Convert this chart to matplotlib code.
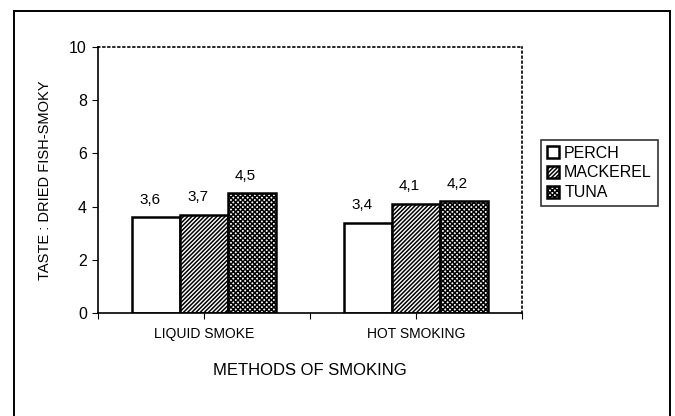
import matplotlib.pyplot as plt
import matplotlib.lines as mlines
import numpy as np

# data
methods = ["LIQUID SMOKE", "HOT SMOKING"]
fish = ["PERCH", "MACKEREL", "TUNA"]
perch = [3.6, 3.4]
mackerel = [3.7, 4.1]
tuna = [4.5, 4.2]

plt.rcParams["font.family"] = ["Liberation Sans", "DejaVu Sans"]
plt.rcParams["hatch.linewidth"] = 1.1

fig = plt.figure(figsize=(6.75, 4.16), dpi=100)
ax = fig.add_axes([98 / 675, 1 - 313 / 416, 424 / 675, 266 / 416])

x = np.arange(len(methods))
w = 0.225
series = [perch, mackerel, tuna]
hatches = ["", "////////", "xxxxxxx"]
bars = []
for i, (vals, h) in enumerate(zip(series, hatches)):
    b = ax.bar(x + (i - 1) * w, vals, w, color="white", edgecolor="black",
               linewidth=1.8, hatch=h, label=fish[i])
    bars.append(b)
    for xi, v in zip(x + (i - 1) * w, vals):
        ax.text(xi - 0.03, v + 0.4, f"{v:.1f}".replace(".", ","),
                ha="center", va="bottom", fontsize=11)

ax.set_xlim(-0.5, 1.5)
ax.set_ylim(0, 10)
ax.set_yticks([0, 2, 4, 6, 8, 10])
ax.set_xticks([-0.5, 0, 0.5, 1, 1.5], minor=False)
ax.set_xticklabels(["", methods[0], "", methods[1], ""], fontsize=10)
ax.tick_params(axis="x", direction="out", length=4, pad=6)
ax.tick_params(axis="y", direction="out", length=4, labelsize=11.5, pad=4)
for side in ["top", "right"]:
    ax.spines[side].set_linestyle((0, (1, 2)))
for side in ax.spines:
    ax.spines[side].set_linewidth(1.2)

ax.set_ylabel("TASTE : DRIED FISH-SMOKY", fontsize=10.5, labelpad=12)
ax.set_xlabel("METHODS OF SMOKING", fontsize=12, labelpad=16)

leg = fig.legend(handles=bars, labels=fish, loc="upper left",
                 bbox_to_anchor=(541 / 675, 1 - 140 / 416), borderaxespad=0,
                 frameon=True, fancybox=False, edgecolor="black",
                 fontsize=11.5, handlelength=0.8, handleheight=0.8,
                 handletextpad=0.3, borderpad=0.35, labelspacing=0.3)
leg.get_frame().set_linewidth(1.2)

# outer border of the chart area
top = 1 - 11 / 416
fig.add_artist(mlines.Line2D([14 / 675, 14 / 675], [0, top], color="black", lw=1.4))
fig.add_artist(mlines.Line2D([14 / 675, 670 / 675], [top, top], color="black", lw=1.4))
fig.add_artist(mlines.Line2D([670 / 675, 670 / 675], [0, top], color="black", lw=1.4))

fig.savefig("out.png", dpi=100)
